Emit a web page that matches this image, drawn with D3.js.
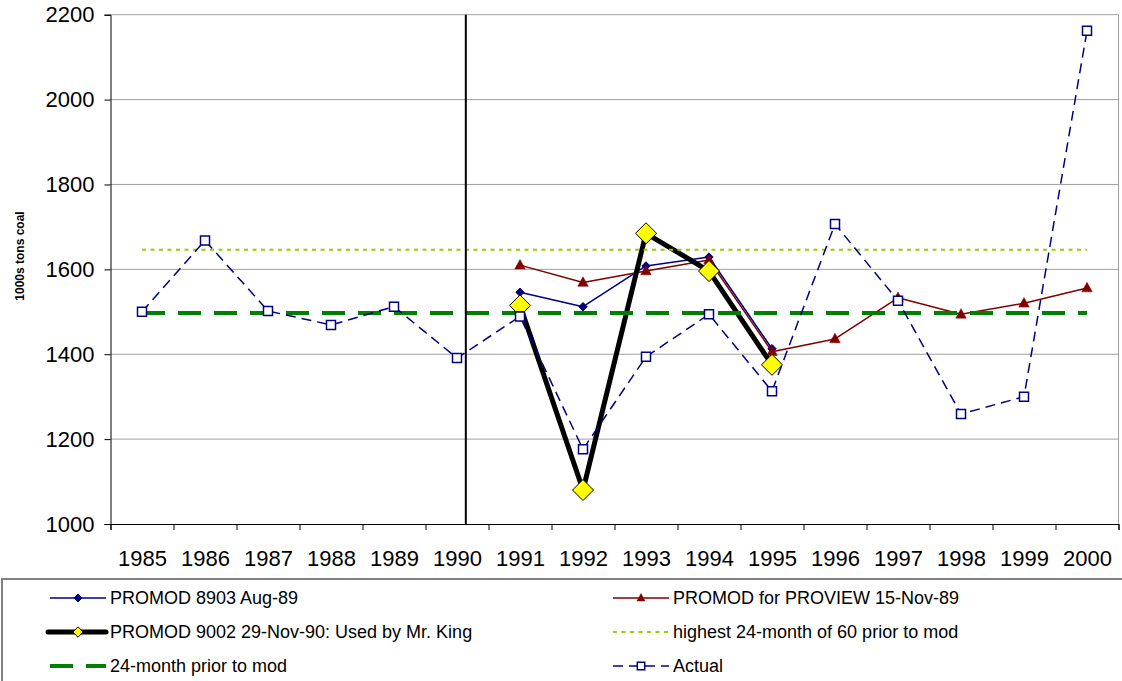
<!DOCTYPE html>
<html>
<head>
<meta charset="utf-8">
<script src="https://cdn.jsdelivr.net/npm/d3@7/dist/d3.min.js"></script>
<style>
  html, body { margin: 0; padding: 0; background: #fff; }
  svg { display: block; font-family: "Liberation Sans", Arial, sans-serif; }
</style>
</head>
<body>
<svg id="chart" width="1122" height="681"></svg>
<script>
// ---------------- data ----------------
const years = [1985, 1986, 1987, 1988, 1989, 1990, 1991, 1992, 1993, 1994, 1995, 1996, 1997, 1998, 1999, 2000];
const promod8903 = [null, null, null, null, null, null, 1546, 1512, 1608, 1629, 1413, null, null, null, null, null];
const promodProview = [null, null, null, null, null, null, 1610, 1569, 1596, 1622, 1406, 1436, 1533, 1494, 1520, 1556];
const promod9002 = [null, null, null, null, null, null, 1515, 1080, 1685, 1596, 1375, null, null, null, null, null];
const highest24of60 = [1646, 1646, 1646, 1646, 1646, 1646, 1646, 1646, 1646, 1646, 1646, 1646, 1646, 1646, 1646, 1646];
const prior24 = [1497, 1497, 1497, 1497, 1497, 1497, 1497, 1497, 1497, 1497, 1497, 1497, 1497, 1497, 1497, 1497];
const actual = [1500, 1668, 1502, 1469, 1512, 1391, 1489, 1176, 1394, 1494, 1313, 1707, 1526, 1259, 1300, 2162];
const yTicks = [1000, 1200, 1400, 1600, 1800, 2000, 2200];
const modDate = [1990.14];
const yLabel = "1000s tons coal";
const seriesNames = [
  "PROMOD 8903 Aug-89",
  "PROMOD for PROVIEW 15-Nov-89",
  "PROMOD 9002 29-Nov-90: Used by Mr. King",
  "highest 24-month of 60 prior to mod",
  "24-month prior to mod",
  "Actual"
];

// ---------------- layout ----------------
const svg = d3.select("#chart");
const L = 110.5, R = 1118.5, T = 14.7, B = 524;
const x = d3.scaleLinear().domain([years[0] - 0.5, years[years.length - 1] + 0.5]).range([L, R]);
const y = d3.scaleLinear().domain([yTicks[0], yTicks[yTicks.length - 1]]).range([B, T]);

// gridlines
svg.append("g")
  .selectAll("line").data(yTicks.slice(1)).join("line")
  .attr("x1", L).attr("x2", R)
  .attr("y1", d => y(d)).attr("y2", d => y(d))
  .attr("stroke", "#a0a0a0").attr("stroke-width", 1);
// right border
svg.append("line").attr("x1", R).attr("x2", R).attr("y1", T).attr("y2", B)
  .attr("stroke", "#a0a0a0").attr("stroke-width", 1);

// y axis
const yAxis = svg.append("g").attr("transform", `translate(${L},0)`)
  .call(d3.axisLeft(y).tickValues(yTicks).tickSize(6).tickPadding(10).tickFormat(d3.format("d")));
yAxis.select(".domain").attr("stroke", "#000");
yAxis.selectAll(".tick line").attr("stroke", "#000");
yAxis.selectAll("text").attr("font-size", 22).attr("fill", "#000")
  .attr("font-family", "'Liberation Sans', Arial, sans-serif");

// x axis: boundary ticks
const bounds = d3.range(years[0] - 0.5, years[years.length - 1] + 1, 1);
const xAxis = svg.append("g").attr("transform", `translate(0,${B})`)
  .call(d3.axisBottom(x).tickValues(bounds).tickSize(6).tickFormat(""));
xAxis.select(".domain").attr("stroke", "#000");
xAxis.selectAll(".tick line").attr("stroke", "#000");
const xLab = svg.append("g").attr("transform", `translate(0,${B})`)
  .call(d3.axisBottom(x).tickValues(years).tickSize(0).tickPadding(26).tickFormat(d3.format("d")));
xLab.select(".domain").remove();
xLab.selectAll("text").attr("font-size", 22).attr("fill", "#000")
  .attr("font-family", "'Liberation Sans', Arial, sans-serif");

// y label
svg.append("text")
  .attr("transform", `translate(24,256) rotate(-90)`)
  .attr("text-anchor", "middle")
  .attr("font-size", 12).attr("font-weight", "bold")
  .text(yLabel);

// ---------------- series ----------------
const pts = arr => years.map((yr, i) => ({ yr, v: arr[i] })).filter(d => d.v != null);
const lineGen = d3.line().x(d => x(d.yr)).y(d => y(d.v));

const diamond = s => `M0,${-s}L${s},0L0,${s}L${-s},0Z`;
const triangle = (w, h) => `M0,${-h * 0.6}L${w / 2},${h * 0.4}L${-w / 2},${h * 0.4}Z`;
const square = s => `M${-s},${-s}H${s}V${s}H${-s}Z`;

const styles = [
  { data: promod8903, stroke: "#000080", width: 1.5, dash: null, marker: diamond(4.2), mfill: "#000080", mstroke: "#000080", msw: 1,
    lmarker: diamond(4) },
  { data: promodProview, stroke: "#800000", width: 1.5, dash: null, marker: triangle(10.5, 9.5), mfill: "#800000", mstroke: "#800000", msw: 0.5,
    lmarker: triangle(8, 7.5) },
  { data: promod9002, stroke: "#000000", width: 5, dash: null, marker: diamond(10.5), mfill: "#ffff00", mstroke: "#000", msw: 1,
    lmarker: diamond(5.2) },
  { data: highest24of60, stroke: "#99cc00", width: 2, dash: "4,4.5", marker: null },
  { data: prior24, stroke: "#008000", width: 4, dash: "23,13", marker: null },
  { data: actual, stroke: "#000080", width: 1.5, dash: "10,6", marker: square(4.5), mfill: "#fff", mstroke: "#000080", msw: 1.5,
    lmarker: square(3.7) }
];

const seriesG = svg.append("g");
styles.forEach(s => {
  const p = pts(s.data);
  seriesG.append("path").datum(p)
    .attr("d", lineGen)
    .attr("fill", "none")
    .attr("stroke", s.stroke)
    .attr("stroke-width", s.width)
    .attr("stroke-linejoin", "round")
    .attr("stroke-dasharray", s.dash);
  if (s.marker) {
    seriesG.append("g").selectAll("path").data(p).join("path")
      .attr("transform", d => `translate(${x(d.yr)},${y(d.v)})`)
      .attr("d", s.marker)
      .attr("fill", s.mfill).attr("stroke", s.mstroke).attr("stroke-width", s.msw);
  }
});

// vertical mod line
svg.append("g").selectAll("line").data(modDate).join("line")
  .attr("x1", d => x(d)).attr("x2", d => x(d))
  .attr("y1", T).attr("y2", B)
  .attr("stroke", "#000").attr("stroke-width", 2);

// ---------------- legend ----------------
const lg = svg.append("g");
lg.append("rect").attr("x", 2).attr("y", 579).attr("width", 1130).attr("height", 120)
  .attr("fill", "#fff").attr("stroke", "#808080").attr("stroke-width", 2);
const colX = [50, 613];
const rowY = [598, 632, 666];
styles.forEach((s, i) => {
  const cx = colX[i % 2], cy = rowY[Math.floor(i / 2)];
  const g = lg.append("g").attr("transform", `translate(${cx},${cy})`);
  const x0 = (i === 2) ? -2 : 0, x1 = 56;
  g.append("line").attr("x1", x0).attr("x2", x1).attr("y1", 0).attr("y2", 0)
    .attr("stroke", s.stroke).attr("stroke-width", s.width)
    .attr("stroke-linecap", i === 2 ? "round" : "butt")
    .attr("stroke-dasharray", s.dash);
  if (s.lmarker) {
    g.append("path").attr("transform", `translate(28,0)`).attr("d", s.lmarker)
      .attr("fill", s.mfill).attr("stroke", s.mstroke).attr("stroke-width", s.msw);
  }
  g.append("text").attr("x", 60).attr("y", 0).attr("dy", "0.36em")
    .attr("font-size", 18).attr("fill", "#000")
    .text(seriesNames[i]);
});
</script>
</body>
</html>
